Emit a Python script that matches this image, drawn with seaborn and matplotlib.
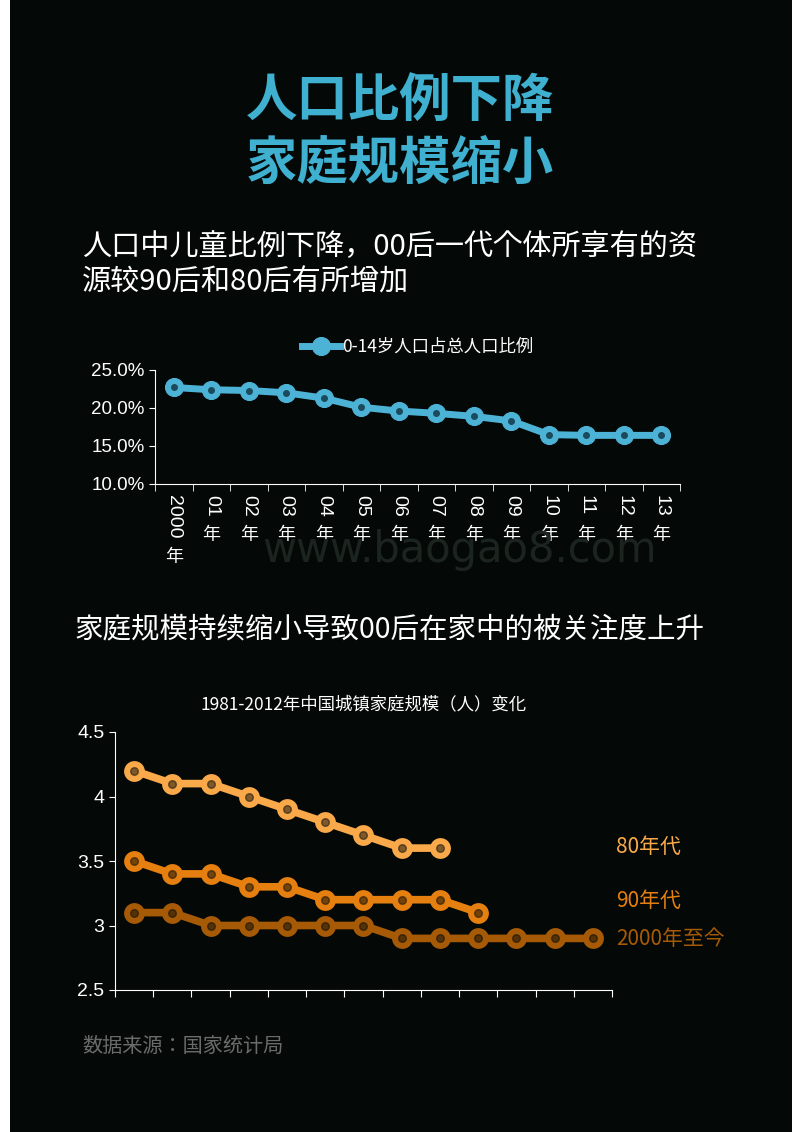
import matplotlib
matplotlib.use("Agg")
import matplotlib.pyplot as plt
from matplotlib import font_manager as fm
import matplotlib.transforms as mtransforms
import seaborn as sns
import pandas as pd
import numpy as np

cjk = [f for f in fm.fontManager.ttflist if "CJK" in f.name]
cjk_names = sorted(set(f.name for f in cjk))
pick = next((n for n in cjk_names if "SC" in n), cjk_names[0] if cjk_names else "DejaVu Sans")
plt.rcParams["font.family"] = [pick, "DejaVu Sans"]
plt.rcParams["axes.unicode_minus"] = False

years = ["2000", "01", "02", "03", "04", "05", "06", "07", "08", "09", "10", "11", "12", "13"]
child_ratio = [22.7, 22.4, 22.3, 22.0, 21.3, 20.1, 19.6, 19.3, 18.9, 18.3, 16.5, 16.4, 16.4, 16.4]

s80 = [4.2, 4.1, 4.1, 4.0, 3.9, 3.8, 3.7, 3.6, 3.6]
s90 = [3.5, 3.4, 3.4, 3.3, 3.3, 3.2, 3.2, 3.2, 3.2, 3.1]
s00 = [3.1, 3.1, 3.0, 3.0, 3.0, 3.0, 3.0, 2.9, 2.9, 2.9, 2.9, 2.9, 2.9]
series_names = ["80年代", "90年代", "2000年至今"]
series_colors = ["#f9a94a", "#e57f0f", "#a65a06"]

BG = "#040907"
fig = plt.figure(figsize=(8, 11.32), dpi=100, facecolor="white")
bgax = fig.add_axes([0.012, 0, 0.978, 1])
bgax.set_facecolor(BG); bgax.set_xticks([]); bgax.set_yticks([])
for s in bgax.spines.values(): s.set_visible(False)

W, H = 800, 1132
def fy(y): return 1 - y / H

fig.text(0.5, fy(100), "人口比例下降", color="#3fb0d0", fontsize=37, fontweight="bold", ha="center", va="center")
fig.text(0.5, fy(163), "家庭规模缩小", color="#3fb0d0", fontsize=37, fontweight="bold", ha="center", va="center")
fig.text(82/W, fy(247), "人口中儿童比例下降，00后一代个体所享有的资", color="white", fontsize=21, va="center")
fig.text(82/W, fy(283), "源较90后和80后有所增加", color="white", fontsize=21, va="center")
fig.text(75/W, fy(629), "家庭规模持续缩小导致00后在家中的被关注度上升", color="white", fontsize=20.5, va="center")
fig.text(82/W, fy(1046), "数据来源：国家统计局", color="#6b6b6b", fontsize=14.5, va="center")
fig.text(460/W, fy(550), "www.baogao8.com", color="#1c2420", fontsize=30, ha="center", va="center", family="DejaVu Sans")

# top chart
ax1 = fig.add_axes([155/W, 1 - 484/H, (680-155)/W, (484-370)/H])
ax1.set_facecolor("none")
df1 = pd.DataFrame({"x": np.arange(len(years)), "y": child_ratio})
sns.lineplot(data=df1, x="x", y="y", ax=ax1, color="#4db3d6", lw=5, marker="o", markersize=13,
             markerfacecolor="#4db3d6", markeredgecolor="#4db3d6", label="0-14岁人口占总人口比例")
ax1.plot(df1.x, df1.y, "o", color="#1a4a5c", markersize=4)
ax1.set_xlim(-0.5, len(years) - 0.5)
ax1.set_ylim(10, 25)
ax1.set_yticks([10, 15, 20, 25])
ax1.set_yticklabels([f"{v:.1f}%" for v in [10, 15, 20, 25]], color="white", fontsize=13.5, family="Liberation Sans")
ax1.set_xticks(np.arange(len(years)))
ax1.set_xticklabels([])
for i, t in enumerate(years):
    tr = mtransforms.offset_copy(ax1.get_xaxis_transform(), fig=fig, x=0, y=-8, units="points")
    ax1.text(i, 0, t, rotation=-90, ha="center", va="top", color="white", fontsize=14,
             family="Liberation Sans", transform=tr)
    n = len(t)
    tr2 = mtransforms.offset_copy(ax1.get_xaxis_transform(), fig=fig, x=0, y=-14 - 8 * n, units="points")
    ax1.text(i, 0, "年", ha="center", va="top", color="white", fontsize=13, transform=tr2)
ax1.set_xticks(np.arange(len(years) + 1) - 0.5, minor=True)
ax1.tick_params(axis="x", which="major", length=0)
ax1.tick_params(axis="x", which="minor", length=5, color="white")
ax1.tick_params(axis="y", length=4, color="white")
ax1.set_xlabel(""); ax1.set_ylabel("")
for s in ["top", "right"]: ax1.spines[s].set_visible(False)
for s in ["left", "bottom"]: ax1.spines[s].set_color("white")
ax1.legend(loc="lower center", bbox_to_anchor=(0.5, 1.05), frameon=False, fontsize=12.5, labelcolor="white",
           handlelength=2.2, borderpad=0, handletextpad=0.1)

# bottom chart
ax2 = fig.add_axes([115/W, 1 - 990/H, (612-115)/W, (990-732)/H])
ax2.set_facecolor("none")
rows = []
for name, vals in zip(series_names, [s80, s90, s00]):
    for i, v in enumerate(vals):
        rows.append({"x": i, "y": v, "s": name})
df2 = pd.DataFrame(rows)
sns.lineplot(data=df2, x="x", y="y", hue="s", palette=dict(zip(series_names, series_colors)), ax=ax2,
             lw=5.5, marker="o", markersize=15, markeredgewidth=0, legend=False)
for name, vals, c in zip(series_names, [s80, s90, s00], series_colors):
    ax2.plot(range(len(vals)), vals, "o", color=BG, markersize=5.5, alpha=0.5)
ax2.set_xlim(-0.5, 12.5)
ax2.set_ylim(2.5, 4.5)
ax2.set_yticks([2.5, 3, 3.5, 4, 4.5])
ax2.set_yticklabels(["2.5", "3", "3.5", "4", "4.5"], color="white", fontsize=14, family="Liberation Sans")
ax2.set_xticks(np.arange(14) - 0.5)
ax2.set_xticklabels([])
ax2.tick_params(axis="x", length=5, color="white")
ax2.tick_params(axis="y", length=4, color="white")
ax2.set_xlabel(""); ax2.set_ylabel("")
for s in ["top", "right"]: ax2.spines[s].set_visible(False)
for s in ["left", "bottom"]: ax2.spines[s].set_color("white")
ax2.set_title("1981-2012年中国城镇家庭规模（人）变化", color="white", fontsize=12.5, pad=16)
for name, c, y in zip(series_names, series_colors, [847, 901, 939]):
    fig.text(616/W, fy(y), name, color=c, fontsize=15, va="center")

fig.savefig("out.png", dpi=100, facecolor="white")
